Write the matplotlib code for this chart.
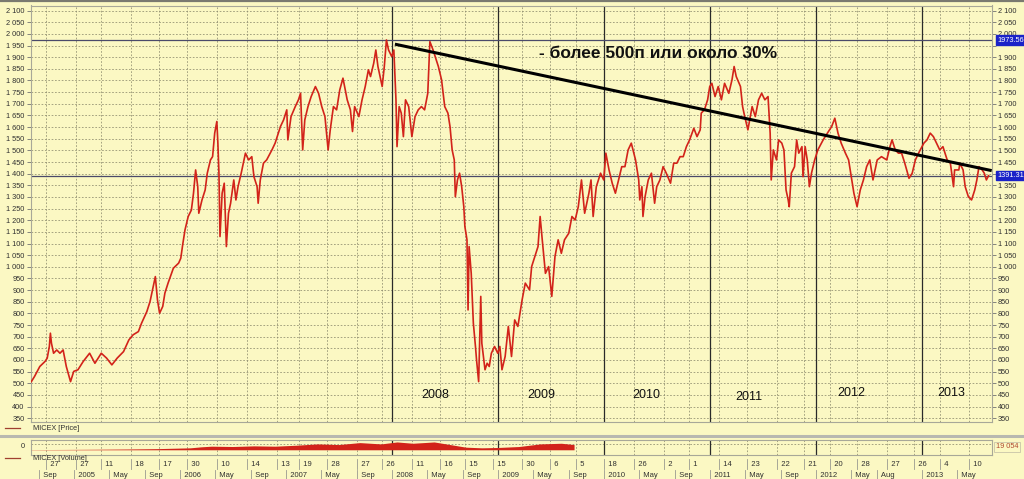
import matplotlib
matplotlib.use("Agg")
import matplotlib.pyplot as plt
from matplotlib.lines import Line2D

# ---------------- data ----------------
price_x = [
    2004.60, 2004.63, 2004.68, 2004.73, 2004.75, 2004.77, 2004.78, 2004.79, 2004.81, 2004.84,
    2004.87, 2004.90, 2004.93, 2004.97, 2005.00, 2005.04, 2005.09, 2005.15, 2005.20, 2005.26,
    2005.31, 2005.36, 2005.41, 2005.47, 2005.52, 2005.56, 2005.61, 2005.64, 2005.69, 2005.72,
    2005.75, 2005.77, 2005.79, 2005.81, 2005.84, 2005.86, 2005.89, 2005.94, 2005.99, 2006.01,
    2006.03, 2006.05, 2006.08, 2006.11, 2006.13, 2006.15, 2006.17, 2006.18, 2006.21, 2006.24,
    2006.26, 2006.29, 2006.31, 2006.33, 2006.35, 2006.36, 2006.37, 2006.38, 2006.40, 2006.42,
    2006.44, 2006.46, 2006.48, 2006.51, 2006.53, 2006.55, 2006.58, 2006.62, 2006.65, 2006.68,
    2006.70, 2006.73, 2006.74, 2006.76, 2006.79, 2006.82,
    2006.87, 2006.90, 2006.95, 2006.98, 2007.01, 2007.02, 2007.05, 2007.09, 2007.12, 2007.14,
    2007.16, 2007.18, 2007.21, 2007.24, 2007.28, 2007.31, 2007.34, 2007.37, 2007.40, 2007.42,
    2007.45, 2007.48, 2007.51, 2007.54, 2007.58, 2007.61, 2007.63, 2007.65, 2007.69, 2007.72,
    2007.75, 2007.78, 2007.80, 2007.83, 2007.85, 2007.87, 2007.91, 2007.93, 2007.95, 2007.97,
    2008.00, 2008.02, 2008.04, 2008.05, 2008.07, 2008.09, 2008.11, 2008.13, 2008.16, 2008.19,
    2008.22, 2008.25, 2008.28, 2008.31, 2008.34, 2008.36, 2008.39, 2008.41, 2008.44, 2008.47,
    2008.50, 2008.53, 2008.55, 2008.57, 2008.59, 2008.60, 2008.62, 2008.64, 2008.66, 2008.68,
    2008.69, 2008.71, 2008.72, 2008.73, 2008.75, 2008.77, 2008.79, 2008.80, 2008.82, 2008.84,
    2008.85, 2008.88, 2008.90, 2008.92, 2008.94, 2008.97, 2009.00, 2009.02, 2009.04, 2009.07,
    2009.10,
    2009.13, 2009.16, 2009.19, 2009.23, 2009.26, 2009.30, 2009.32, 2009.35, 2009.38, 2009.40,
    2009.42, 2009.45, 2009.48, 2009.51, 2009.54, 2009.57, 2009.60, 2009.63, 2009.67, 2009.70,
    2009.73, 2009.76, 2009.79, 2009.82, 2009.86, 2009.88, 2009.90, 2009.93, 2009.97, 2010.00,
    2010.02, 2010.05, 2010.08, 2010.11, 2010.14, 2010.17, 2010.20, 2010.23, 2010.26, 2010.30,
    2010.33, 2010.34, 2010.36, 2010.37, 2010.39, 2010.42, 2010.45, 2010.48, 2010.50, 2010.53,
    2010.56, 2010.59, 2010.63, 2010.66, 2010.69, 2010.72, 2010.75, 2010.78, 2010.81, 2010.85,
    2010.88, 2010.91, 2010.92, 2010.95, 2010.98, 2011.00, 2011.02, 2011.05, 2011.08, 2011.11,
    2011.14, 2011.18, 2011.21, 2011.23, 2011.25, 2011.29, 2011.31, 2011.33, 2011.36,
    2011.40, 2011.43, 2011.46, 2011.49, 2011.52, 2011.55, 2011.57, 2011.58, 2011.60, 2011.63,
    2011.65, 2011.68, 2011.70, 2011.72, 2011.74, 2011.75, 2011.77, 2011.80, 2011.82, 2011.84,
    2011.87, 2011.88, 2011.90, 2011.92, 2011.94, 2011.96, 2011.99, 2012.02, 2012.07, 2012.11,
    2012.15, 2012.18, 2012.21, 2012.24, 2012.28, 2012.31, 2012.34, 2012.36, 2012.39, 2012.42,
    2012.45, 2012.48, 2012.51, 2012.54, 2012.58, 2012.62, 2012.67, 2012.70, 2012.72, 2012.75,
    2012.78, 2012.81, 2012.84, 2012.88, 2012.91, 2012.94, 2012.97, 2013.02, 2013.05, 2013.08,
    2013.11, 2013.14, 2013.17, 2013.20, 2013.24, 2013.27, 2013.30, 2013.31, 2013.35, 2013.36,
    2013.39, 2013.41, 2013.44, 2013.47, 2013.50, 2013.52, 2013.54, 2013.57, 2013.59, 2013.61,
    2013.63,
]
price_y = [
    507, 529, 572, 594, 608, 658, 715, 672, 629, 643,
    629, 643, 572, 507, 551, 558, 594, 629, 586, 629,
    608, 579, 608, 636, 686, 708, 722, 758, 808, 851,
    915, 958, 858, 801, 830, 887, 930, 994, 1016, 1037,
    1101, 1159, 1216, 1244, 1316, 1416, 1344, 1230, 1287, 1330,
    1402, 1459, 1473, 1574, 1624, 1531, 1402, 1130, 1316, 1359,
    1087, 1230, 1273, 1373, 1287, 1344, 1402, 1488, 1459, 1473,
    1387, 1344, 1273, 1373, 1445, 1459,
    1502, 1531, 1602, 1631, 1674, 1545, 1645, 1688, 1717, 1745,
    1502, 1631, 1688, 1731, 1774, 1745, 1688, 1645, 1502, 1588,
    1688, 1674, 1760, 1810, 1717, 1674, 1581, 1688, 1645, 1717,
    1774, 1846, 1817, 1874, 1931, 1860, 1774, 1860, 1974, 1931,
    1903, 1931, 1717, 1516, 1688, 1660, 1559, 1717, 1688, 1559,
    1645, 1674, 1688, 1674, 1745, 1967, 1931, 1903, 1860, 1803,
    1688, 1660, 1602, 1502, 1459, 1301, 1373, 1402, 1344, 1258,
    1173, 1116, 815, 1087, 972, 758, 658, 601, 507, 873,
    672, 558, 586, 572, 629, 658, 629, 658, 558, 615,
    744,
    615, 772, 744, 858, 930, 901, 1001, 1044, 1087, 1216,
    1116, 972, 1001, 873, 1044, 1116, 1058, 1116, 1144, 1216,
    1201, 1258, 1373, 1230, 1316, 1373, 1216, 1344, 1402, 1373,
    1488, 1416, 1359, 1316, 1373, 1430, 1430, 1502, 1531, 1459,
    1373, 1287, 1344, 1216, 1301, 1373, 1402, 1273, 1344, 1373,
    1430, 1402, 1359, 1445, 1445, 1473, 1473, 1516, 1545, 1595,
    1559, 1588, 1660, 1674, 1717, 1774, 1788, 1731, 1774, 1717,
    1788, 1745, 1803, 1860, 1817, 1774, 1688, 1645, 1588,
    1688, 1645, 1717, 1745, 1717, 1731, 1574, 1373, 1502, 1459,
    1545, 1531, 1502, 1330, 1287, 1258, 1402, 1430, 1545, 1488,
    1516, 1387, 1516, 1459, 1344, 1402, 1459, 1502, 1545, 1574,
    1602, 1638, 1574, 1531, 1488, 1459, 1373, 1316, 1258, 1330,
    1373, 1430, 1459, 1373, 1459, 1473, 1459, 1516, 1545, 1502,
    1488, 1488, 1445, 1380, 1402, 1459, 1488, 1531, 1545, 1574,
    1559, 1531, 1502, 1516, 1459, 1445, 1344, 1416, 1416, 1445,
    1416, 1344, 1301, 1287, 1330, 1373, 1430, 1416, 1402, 1373,
    1391,
]

volume_x = [2004.60, 2004.90, 2005.20, 2005.50, 2005.80, 2006.10, 2006.20, 2006.30, 2006.50,
            2006.70, 2006.90, 2007.10, 2007.30, 2007.50, 2007.70, 2007.90, 2008.05,
            2008.20, 2008.40, 2008.55, 2008.70, 2008.85, 2009.00, 2009.20, 2009.40,
            2009.60, 2009.72]
volume_y = [300, 500, 800, 1200, 1800, 3000, 4500, 5500, 5000,
            6000, 5500, 7000, 9000, 8000, 11000, 9000, 12000,
            10000, 12000, 8000, 4000, 3000, 3500, 5000, 9000,
            10000, 8000]
volume_last = "19 054"

price_levels = [1973.56, 1391.31]
year_lines = [2008, 2009, 2010, 2011, 2012, 2013]
year_labels = ["2008", "2009", "2010", "2011", "2012", "2013"]
year_label_x = [2008.41, 2009.415, 2010.406, 2011.37, 2012.333, 2013.283]
year_label_y = [450, 450, 450, 441, 459, 459]

trend_x = [2008.03, 2013.66]
trend_y = [1956, 1413]
note_text = "- более 500п или около 30%"
note_x, note_y = 2010.51, 1917

# date axis (upper row: day numbers on grid dates; lower row: months/years)
day_pos = [2004.743, 2005.026, 2005.262, 2005.545, 2005.809, 2006.064, 2006.347, 2006.630,
           2006.913, 2007.121, 2007.385, 2007.668, 2007.904, 2008.187, 2008.451, 2008.687,
           2008.960, 2009.225, 2009.489, 2009.743, 2009.998, 2010.281, 2010.564, 2010.809,
           2011.092, 2011.347, 2011.630, 2011.885, 2012.130, 2012.385, 2012.668, 2012.923,
           2013.168, 2013.442]
day_labels = ["27", "27", "11", "18", "17", "30", "10", "14", "13", "19", "28", "27", "26",
              "11", "16", "15", "15", "30", "6", "5", "18", "26", "2", "1", "14", "23", "22",
              "21", "20", "28", "27", "26", "4", "10"]
month_pos = [2004.67, 2005.0, 2005.33, 2005.67, 2006.0, 2006.33, 2006.67, 2007.0, 2007.33,
             2007.67, 2008.0, 2008.33, 2008.67, 2009.0, 2009.33, 2009.67, 2010.0, 2010.33,
             2010.67, 2011.0, 2011.33, 2011.67, 2012.0, 2012.33, 2012.58, 2013.0, 2013.33]
month_labels = ["Sep", "2005", "May", "Sep", "2006", "May", "Sep", "2007", "May", "Sep",
                "2008", "May", "Sep", "2009", "May", "Sep", "2010", "May", "Sep", "2011",
                "May", "Sep", "2012", "May", "Aug", "2013", "May"]
y_ticks = list(range(350, 2101, 50))
hidden_right = [1400, 1950]

# ---------------- styling ----------------
BG = "#FBF8C3"
GRID = "#8E8C6E"
RED = "#D2231A"
TXT = "#303030"
plt.rcParams["font.family"] = ["Liberation Sans", "DejaVu Sans"]

W, H = 1024, 479
fig = plt.figure(figsize=(W / 100, H / 100), dpi=100, facecolor=BG)

L, R = 31, 991.7
XLIM = (2004.597, 2013.660)


def fx(px):
    return px / W


def fy(py):
    return 1 - py / H


def fmt(v):
    return f"{int(v):,}".replace(",", " ")


# ---------------- main price panel ----------------
ax = fig.add_axes([fx(L), fy(421.7), fx(R - L), (421.7 - 5.5) / H], facecolor=BG)
ax.set_xlim(*XLIM)
ax.set_ylim(335, 2122)
ax.set_yticks(y_ticks)
ax.set_yticklabels([fmt(v) for v in y_ticks])
ax.tick_params(axis="y", which="both", labelsize=5.3, colors="#707070", labelcolor=TXT,
               length=3, width=0.6, pad=1.5, left=True, right=True, labelleft=True,
               labelright=True)
for v, t in zip(y_ticks, ax.yaxis.get_major_ticks()):
    if v in hidden_right:
        t.label2.set_visible(False)
ax.set_xticks(day_pos)
ax.tick_params(axis="x", length=0, labelbottom=False)
ax.grid(True, color=GRID, linestyle=(0, (2.2, 2.2)), linewidth=0.55)
for s in ax.spines.values():
    s.set_color("#A8A898")
    s.set_linewidth(0.8)

for yl in year_lines:
    ax.axvline(yl, color="#2A2A2A", lw=0.9, zorder=2)
for lv in price_levels:
    ax.axhline(lv, color="#4A4A6A", lw=0.9, zorder=2)

ax.plot(price_x, price_y, color=RED, lw=1.2, zorder=3, solid_joinstyle="round")
ax.plot(trend_x, trend_y, color="black", lw=2.2, zorder=4, solid_capstyle="butt")

ax.text(note_x, note_y, note_text, fontsize=12.5, fontweight="bold", color="#111111",
        ha="center", va="center", zorder=5)
for xl, yv, lab in zip(year_label_x, year_label_y, year_labels):
    ax.text(xl, yv, lab, fontsize=9, color="#111111", ha="center", va="center", zorder=5)

for lv in price_levels:
    ax.annotate(f"{lv:.2f}", xy=(1.0, lv), xycoords=("axes fraction", "data"),
                xytext=(4, 0), textcoords="offset points", fontsize=5.3, color="white",
                ha="left", va="center", annotation_clip=False, zorder=6,
                bbox=dict(boxstyle="square,pad=0.15", fc="#1A22C8", ec="#1A22C8"))

# ---------------- legends / separators ----------------
fig.add_artist(Line2D([fx(5), fx(20)], [fy(428), fy(428)], color="#A04030", lw=0.9))
fig.text(fx(33), fy(428), "MICEX [Price]", fontsize=5.3, color=TXT, va="center")
fig.add_artist(Line2D([0, 1], [fy(435.5), fy(435.5)], color="#B8B8B0", lw=2.2))
fig.add_artist(Line2D([0, 1], [fy(0.8), fy(0.8)], color="#7A7A70", lw=1.6))
fig.add_artist(Line2D([fx(5), fx(20)], [fy(458), fy(458)], color="#A04030", lw=0.9))
fig.text(fx(33), fy(458), "MICEX [Volume]", fontsize=5.3, color=TXT, va="center")

# ---------------- volume panel ----------------
vax = fig.add_axes([fx(L), fy(455), fx(R - L), 15 / H], facecolor=BG)
vax.set_xlim(*XLIM)
vax.set_ylim(-8000, 15000)
vax.fill_between(volume_x, 0, volume_y, color=RED, lw=0, zorder=3)
vax.set_xticks(day_pos)
vax.set_yticks([9000])
vax.grid(True, color=GRID, linestyle=(0, (2.2, 2.2)), linewidth=0.55)
vax.tick_params(length=0, labelbottom=False, labelleft=False)
for yl in year_lines:
    vax.axvline(yl, color="#2A2A2A", lw=0.9, zorder=2)
for s in vax.spines.values():
    s.set_color("#A8A898")
    s.set_linewidth(0.8)
vax.text(-0.006, 0.55, "0", transform=vax.transAxes, fontsize=5.3, color=TXT,
         ha="right", va="center")
vax.text(1.004, 0.55, volume_last, transform=vax.transAxes, fontsize=5.3, color="#B04A30",
         ha="left", va="center",
         bbox=dict(boxstyle="square,pad=0.2", fc=BG, ec="#C8C4A8", lw=0.6))

# ---------------- date axis ----------------
dax = fig.add_axes([fx(L), 0, fx(R - L), 20 / H], facecolor=BG)
dax.set_xlim(*XLIM)
dax.set_ylim(0, 1)
dax.axis("off")
for p, lab in zip(day_pos, day_labels):
    dax.plot([p, p], [0.52, 0.98], color="#9A9A90", lw=0.6)
    dax.text(p, 0.74, "  " + lab, fontsize=5.5, color=TXT, ha="left", va="center")
for p, lab in zip(month_pos, month_labels):
    dax.plot([p, p], [0.0, 0.45], color="#9A9A90", lw=0.6)
    dax.text(p, 0.18, "  " + lab, fontsize=5.5, color=TXT, ha="left", va="center")

fig.savefig("out.png", dpi=100, facecolor=BG)
